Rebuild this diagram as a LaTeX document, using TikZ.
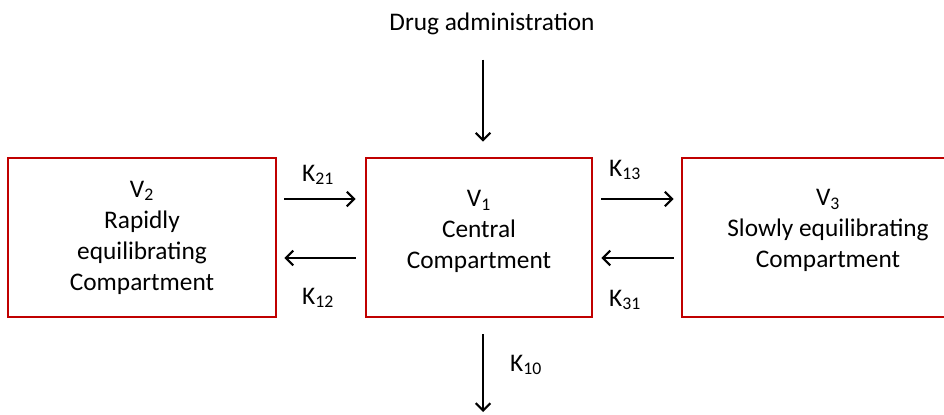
\documentclass[tikz,border=0pt]{standalone}
\usepackage{fontspec}
\setmainfont{Carlito}
\usetikzlibrary{arrows.meta}
\definecolor{boxred}{RGB}{192,0,0}

\begin{document}
\begin{tikzpicture}[x=0.75pt,y=-0.75pt,
    font=\fontsize{19}{23.25}\selectfont,
    comp/.style={draw=boxred,line width=2pt,inner sep=0pt,minimum height=119.25pt},
    txt/.style={align=center,inner sep=0pt},
    flow/.style={-{Straight Barb[length=5.5pt,width=11pt]},line width=1.6pt}]

  \useasboundingbox (0,0) rectangle (944,414);

  % compartments (the right one runs off the page)
  \node[comp,minimum width=201pt] (v2) at (142,237.5) {};
  \node[comp,minimum width=169.5pt] (v1) at (479,237.5) {};
  \node[comp,minimum width=219pt] (v3) at (828,237.5) {};
  \node[txt] (v2txt) at (v2.center) {V\textsubscript{2}\\Rapidly\\equilibrating\\Compartment};
  \node[txt,yshift=4.5pt] (v1txt) at (v1.center) {V\textsubscript{1}\\Central\\Compartment};
  \node[txt,yshift=5pt] (v3txt) at (v3.center) {V\textsubscript{3}\\Slowly equilibrating\\Compartment};

  \node (drug) at (492,24) {Drug administration};
  \coordinate (out) at (483,412);

  % transfer arrows
  \draw[flow,shorten <=5.25pt,shorten >=6.75pt] (v2.east |- 0,199) -- (v1.west |- 0,199);
  \draw[flow,shorten <=6.75pt,shorten >=5.25pt] (v1.west |- 0,258) -- (v2.east |- 0,258);
  \draw[flow,shorten <=6pt,shorten >=5.25pt] (v1.east |- 0,199) -- (v3.west |- 0,199);
  \draw[flow,shorten <=5.25pt,shorten >=6pt] (v3.west |- 0,258) -- (v1.east |- 0,258);
  \draw[flow,shorten >=11.25pt] (drug.south -| out) ++(0,20) -- (v1.north -| out);
  \draw[flow,shorten <=12pt] (v1.south -| out) -- (out);

  % rate constants
  \node (k21) at (318,175) {K\textsubscript{21}};
  \node (k12) at (318,298) {K\textsubscript{12}};
  \node (k13) at (625,170) {K\textsubscript{13}};
  \node (k31) at (625,300) {K\textsubscript{31}};
  \node (k10) at (526,365) {K\textsubscript{10}};
\end{tikzpicture}
\end{document}
